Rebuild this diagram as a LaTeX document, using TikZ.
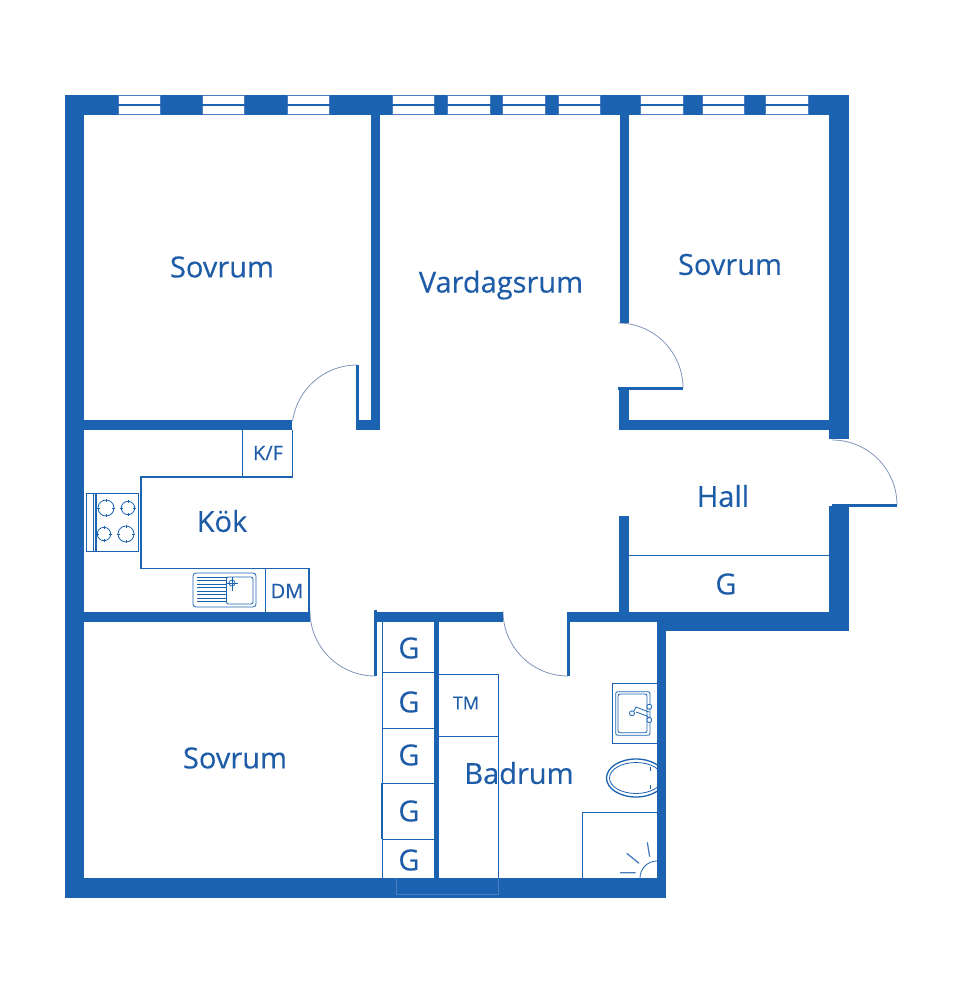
\documentclass[tikz,border=0pt]{standalone}
\usepackage{fontspec}
\setmainfont[RawFeature={embolden=0.35}]{Open Sans}
\definecolor{wallblue}{HTML}{1B63B0}
\definecolor{textblue}{HTML}{1F5CA8}
\definecolor{glassblue}{HTML}{4A7CC0}
\definecolor{swingblue}{HTML}{7F93B8}
\tikzset{
    wall/.style = {fill=wallblue, draw=none},
    fixture/.style = {draw=wallblue, line width=1.3pt},
    fine/.style = {draw=wallblue, line width=0.8pt},
    swing/.style = {draw=swingblue, line width=0.8pt},
    glass/.style = {draw=glassblue, line width=1.1pt},
    room/.style = {text=textblue, font=\fontsize{29}{32}\selectfont, inner sep=0pt},
    unit/.style = {text=textblue, font=\fontsize{20}{24}\selectfont, inner sep=0pt}
}

\begin{document}
\begin{tikzpicture}[x=1pt, y=-1pt]
    \useasboundingbox (0,0) rectangle (960,1007);
    % door swings
    \draw[swing] (357,365) arc[start angle=90, end angle=172, radius=65pt];
    \draw[swing] (618,323) arc[start angle=90, end angle=0, radius=65pt];
    \draw[swing] (832,440) arc[start angle=90, end angle=0, radius=65pt];
    \draw[swing] (310,611) arc[start angle=180, end angle=270, radius=65pt];
    \draw[swing] (503,611) arc[start angle=180, end angle=270, radius=65pt];
    % windows
    \foreach \xa/\xb in {118/161, 202/245, 287/330, 392/435, 447/491, 502/546, 558/601, 640/684, 702/745, 765/809} {
        \draw[glass] (\xa,95.5) rectangle (\xb,114.5);
        \draw[glass, draw=wallblue] (\xa,105) -- (\xb,105);
    }
    % top wall pieces
    \foreach \xa/\xb in {65/118, 161/202, 245/287, 330/392, 435/447, 491/502, 546/558, 601/640, 684/702, 745/765, 809/849} {
        \fill[wall] (\xa,95) rectangle (\xb,115);
    }
    % outer walls
    \fill[wall] (65,95) rectangle (84,898);
    \fill[wall] (829,95) rectangle (849,439);
    \fill[wall] (829,506) rectangle (849,631);
    \fill[wall] (657,612) rectangle (849,631);
    \fill[wall] (657,612) rectangle (666,898);
    \fill[wall] (65,878) rectangle (666,898);
    % inner walls
    \fill[wall] (371,115) rectangle (380,430);
    \fill[wall] (84,420) rectangle (292,430);
    \fill[wall] (356,420) rectangle (380,430);
    \fill[wall] (356,365) rectangle (359,430);
    \fill[wall] (84,612) rectangle (310,622);
    \fill[wall] (619.5,115) rectangle (629,323);
    \fill[wall] (617.5,387) rectangle (683,390);
    \fill[wall] (619,388) rectangle (629,430);
    \fill[wall] (619,420) rectangle (829,430);
    \fill[wall] (832,504) rectangle (897,506.5);
    \fill[wall] (619,516) rectangle (629,612);
    \fill[wall] (374,612) rectangle (503,622);
    \fill[wall] (374,610) rectangle (377,676);
    \fill[wall] (434,622) rectangle (439,878);
    \fill[wall] (567,612) rectangle (657,622);
    \fill[wall] (567,612) rectangle (570,676);
    % kitchen
    \draw[fixture] (242.5,430) -- (242.5,477);
    \draw[fixture] (292.5,430) -- (292.5,477) -- (141,477) -- (141,568.5) -- (309,568.5) -- (309,612);
    \draw[fine] (265,568.5) -- (265,612);
    % stove
    \draw[fine] (86,493) rectangle (138,551);
    \draw[fine] (93.5,493) -- (93.5,551);
    \draw[fixture] (96,493) -- (96,551);
    \foreach \cx/\cy/\rr in {106/508/8, 128/508/6.7, 104/534/6.7, 126/534/8} {
        \draw[fine] (\cx,\cy) circle[radius=\rr pt];
        \draw[fine] (\cx-\rr-1,\cy) -- (\cx-\rr+2,\cy) (\cx+\rr-2,\cy) -- (\cx+\rr+1,\cy);
        \draw[fine] (\cx,\cy-\rr-1) -- (\cx,\cy-\rr+2) (\cx,\cy+\rr-2) -- (\cx,\cy+\rr+1);
    }
    % kitchen sink
    \draw[fine, rounded corners=3pt] (193,573) rectangle (256,607);
    \draw[fine, rounded corners=2pt] (226.5,577) rectangle (253,604);
    \foreach \yy in {577,580.5,...,604} {
        \draw[fine] (197,\yy) -- (226.5,\yy);
    }
    \draw[fine] (232,583) circle[radius=3pt];
    \draw[fine] (226,583) -- (238,583) (232,577) -- (232,591);
    % closets
    \draw[fixture] (382.7,622) -- (382.7,783) (382,783) -- (382,839) (382.7,839) -- (382.7,878);
    \foreach \yy in {672.7, 728.3, 783.3, 839.3} {
        \draw[fixture] (382,\yy) -- (434,\yy);
    }
    \draw[fixture] (629,555.7) -- (829,555.7);
    % bath
    \draw[fixture] (439,674.3) -- (498.7,674.3) -- (498.7,736.3) -- (439,736.3);
    \draw[fine] (498.2,736.3) -- (498.2,878);
    \draw[glass, line width=0.6pt] (396,878) -- (396,894) -- (498.2,894) -- (498.2,878);
    % wash basin
    \draw[fine] (657,683) -- (612,683) -- (612,743) -- (657,743);
    \draw[fine, rounded corners=2pt] (615.7,691.7) rectangle (650,735.3);
    \draw[fine, rounded corners=2pt] (618,694) rectangle (647,732.7);
    \draw[fine] (634,711) -- (636,707) -- (649,712) (636,712) -- (647,716) -- (649,718);
    \foreach \cx/\cy in {649.3/706.7, 649.3/720, 632/713.3} {
        \draw[fine, fill=white] (\cx,\cy) circle[radius=2.5pt];
    }
    % toilet
    \begin{scope}
        \clip (600,750) rectangle (657,805);
        \draw[fixture] (636,778) ellipse[x radius=29.5pt, y radius=19pt];
        \draw[fine] (636,778) ellipse[x radius=26.5pt, y radius=15.5pt];
    \end{scope}
    \draw[fine] (650,767) -- (650,771) (650,785) -- (650,789);
    % shower
    \draw[fixture] (582.3,878) -- (582.3,812.3) -- (657,812.3);
    \draw[fine] (640,878) arc[start angle=180, end angle=90, radius=17pt];
    \draw[glass, line width=1.3pt] (620,872.7) -- (635.7,872.7) (626.7,853.3) -- (639,863.3) (647.3,842.3) -- (649.7,856.7);
    % room labels
    \node[room] (sovrumA) at (222,267) {Sovrum};
    \node[room] (vardagsrum) at (501,285) {Vardagsrum};
    \node[room] (sovrumB) at (730,264.5) {Sovrum};
    \node[room] (hall) at (723,496) {Hall};
    \node[room] (kok) at (222,521) {Kök};
    \node[room] (sovrumC) at (235,758) {Sovrum};
    \node[room] (badrum) at (519,773) {Badrum};
    \node[unit] (kf) at (268,453) {K/F};
    \node[unit] (dm) at (287,591) {DM};
    \node[unit, font=\fontsize{18}{22}\selectfont] (tm) at (466,703) {TM};
    \node[room] (gHall) at (726,584) {G};
    \foreach \yy [count=\i] in {648,702,755,811,860} {
        \node[room] (g\i) at (409,\yy) {G};
    }
\end{tikzpicture}
\end{document}
